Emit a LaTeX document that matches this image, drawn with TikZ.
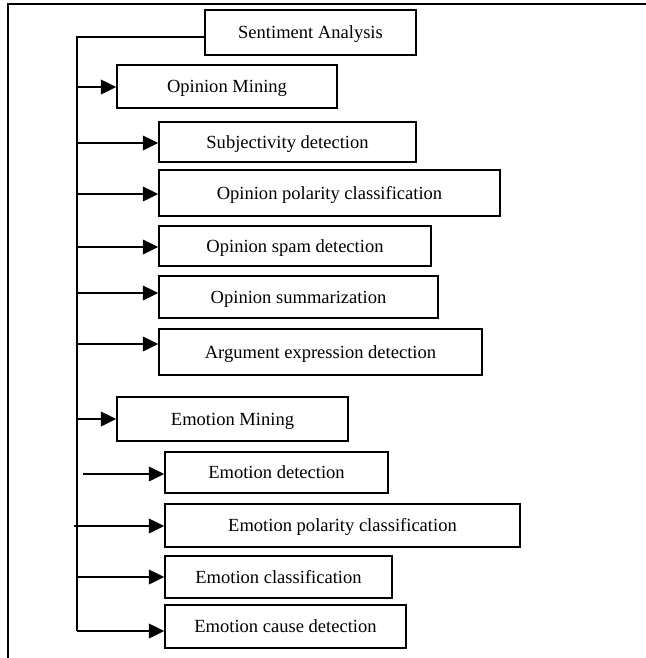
\documentclass[tikz,border=0pt]{standalone}
\usepackage{fontspec}
\setmainfont{Liberation Serif}
\usetikzlibrary{arrows.meta}

\begin{document}
\begin{tikzpicture}[x=0.75pt, y=-0.75pt,
  box/.style={rectangle, draw=black, line width=1.2pt, inner sep=0pt, align=center, text height=9pt, text depth=0pt, font=\fontsize{13.9}{16}\selectfont},
  line/.style={line width=1.2pt},
  arrow/.style={line width=1.2pt, -{Triangle[length=11.5pt, width=11pt]}}]

\useasboundingbox (0,0) rectangle (646,658);
\draw[line] (646,4) -- (8,4) -- (8,658);

\node[box, minimum width=158.25pt, minimum height=33.75pt] (sa) at (310.5,32.5) {Sentiment Analysis};
\node[box, minimum width=165pt, minimum height=32.25pt] (om) at (227,86.5) {Opinion Mining};
\node[box, minimum width=192.75pt, minimum height=30pt] (sd) at (287.5,142) {Subjectivity detection};
\node[box, minimum width=255.75pt, minimum height=34.5pt] (opc) at (329.5,193) {Opinion polarity classification};
\node[box, minimum width=204pt, minimum height=30pt] (osd) at (295,246) {Opinion spam detection};
\node[box, minimum width=209.25pt, minimum height=31.5pt] (osum) at (298.5,297) {Opinion summarization};
\node[box, minimum width=242.25pt, minimum height=34.5pt] (aed) at (320.5,352) {Argument expression detection};
\node[box, minimum width=173.25pt, minimum height=33pt] (em) at (232.5,419) {Emotion Mining};
\node[box, minimum width=167.25pt, minimum height=30.75pt] (ed) at (276.5,472.5) {Emotion detection};
\node[box, minimum width=266.25pt, minimum height=32.25pt] (epc) at (342.5,525.5) {Emotion polarity classification};
\node[box, minimum width=170.25pt, minimum height=31.5pt] (ec) at (278.5,577) {Emotion classification};
\node[box, minimum width=180.75pt, minimum height=32.25pt] (ecd) at (285.5,626.5) {Emotion cause detection};

% trunk from the root box
\coordinate (top) at (77,37);
\coordinate (bot) at (77,631);
\draw[line] (top -| sa.west) -- (top) -- (bot);
\draw[arrow] (bot) -- (bot -| ecd.west);

\foreach \n/\x/\y in {om/77/87, sd/77/143, opc/77/194, osd/77/247, osum/77/293, aed/77/344,
                      em/77/419, ed/83/474, epc/74/526, ec/77/577}
  \draw[arrow] (\x,\y) -- (\n.west |- \x,\y);

\end{tikzpicture}
\end{document}
